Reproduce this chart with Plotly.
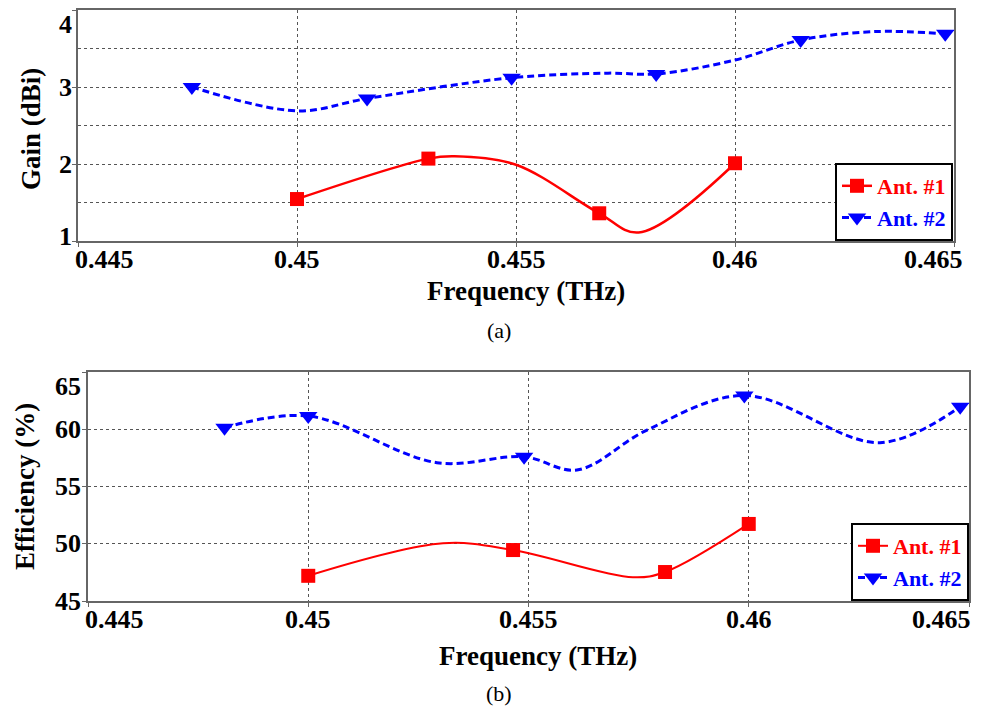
import plotly.graph_objects as go

# ---------------- data ----------------
freq_tick_vals = [0.445, 0.45, 0.455, 0.46, 0.465]
freq_tick_text = ["0.445", "0.45", "0.455", "0.46", "0.465"]
gain_tick_vals = [1, 2, 3, 4]
eff_tick_vals = [45, 50, 55, 60, 65]

# (a) Gain, Ant. #1 : marker points and curve points
gain1_mk_f = [0.45, 0.453, 0.4569, 0.46]
gain1_mk_v = [1.545, 2.07, 1.36, 2.01]
gain1_f = [0.45, 0.453, 0.4536, 0.455, 0.4569, 0.4578, 0.46]
gain1_v = [1.545, 2.07, 2.10, 1.99, 1.36, 1.11, 2.01]

# (a) Gain, Ant. #2
gain2_mk_f = [0.4476, 0.4516, 0.4549, 0.4582, 0.4615, 0.4648]
gain2_mk_v = [3.0, 2.85, 3.12, 3.17, 3.61, 3.69]
gain2_f = [0.4476, 0.45, 0.4516, 0.4549, 0.4571, 0.4582, 0.46, 0.4615, 0.4632, 0.4648]
gain2_v = [3.0, 2.69, 2.85, 3.12, 3.18, 3.17, 3.35, 3.61, 3.72, 3.69]

# (b) Efficiency, Ant. #1
eff1_mk_f = [0.45, 0.45465, 0.4581, 0.46]
eff1_mk_v = [47.2, 49.45, 47.53, 51.73]
eff1_f = [0.45, 0.45306, 0.45465, 0.45737, 0.4581, 0.46]
eff1_v = [47.2, 50.04, 49.45, 47.07, 47.53, 51.73]

# (b) Efficiency, Ant. #2
eff2_mk_f = [0.4481, 0.45, 0.4549, 0.4599, 0.4648]
eff2_mk_v = [60.14, 61.16, 57.6, 62.95, 61.97]
eff2_f = [0.4481, 0.45, 0.45292, 0.4549, 0.4561, 0.45769, 0.4599, 0.46298, 0.4648]
eff2_v = [60.14, 61.16, 57.08, 57.6, 56.44, 59.93, 62.95, 58.83, 61.97]

series_names = ["Ant. #1", "Ant. #2"]

# ---------------- styling ----------------
W, H = 981, 710
OFF = 8  # page body margin: figure is drawn 8px right/down of the window corner
RED = "#ff0000"
BLUE = "#0000ff"
FONT = "Liberation Serif, Times New Roman, serif"
GRID = "#555555"
AXC = "#666666"

def px_x(p):
    return (p - OFF) / W

def px_y(p):
    return 1 - (p - OFF) / H

def b(t):
    return f"<b>{t}</b>"

dom_a_x = [px_x(78), px_x(954)]
dom_a_y = [px_y(241), px_y(10)]
dom_b_x = [px_x(88), px_x(969)]
dom_b_y = [px_y(601), px_y(372)]

fig = go.Figure()

def add_series(f, v, mk_f, mk_v, name, color, symbol, msize, dash, width, xa, ya, legend):
    fig.add_trace(go.Scatter(
        x=f, y=v, mode="lines", showlegend=False,
        line=dict(color=color, width=width, dash=dash, shape="spline", smoothing=1.0),
        xaxis=xa, yaxis=ya, hoverinfo="skip",
    ))
    fig.add_trace(go.Scatter(
        x=mk_f, y=mk_v, mode="markers", showlegend=False,
        marker=dict(color=color, symbol=symbol, size=msize, opacity=1, line=dict(width=0)),
        xaxis=xa, yaxis=ya,
    ))
    fig.add_trace(go.Scatter(
        x=[None], y=[None], mode="lines+markers",
        name=f"<b><span style='color:{color}'>{name}</span></b>",
        line=dict(color=color, width=width, dash=dash),
        marker=dict(color=color, symbol=symbol, size=msize, opacity=1, line=dict(width=0)),
        xaxis=xa, yaxis=ya, legend=legend,
    ))

add_series(gain1_f, gain1_v, gain1_mk_f, gain1_mk_v, series_names[0], RED, "square", 14, "solid", 2.5, "x", "y", "legend")
add_series(gain2_f, gain2_v, gain2_mk_f, gain2_mk_v, series_names[1], BLUE, "triangle-down", 16, "7px,4px", 3, "x", "y", "legend")
add_series(eff1_f, eff1_v, eff1_mk_f, eff1_mk_v, series_names[0], RED, "square", 14, "solid", 2, "x2", "y2", "legend2")
add_series(eff2_f, eff2_v, eff2_mk_f, eff2_mk_v, series_names[1], BLUE, "triangle-down", 16, "7px,4px", 3, "x2", "y2", "legend2")

tick_font = dict(family=FONT, size=26, color="black")
title_font = dict(family=FONT, size=27, color="black")
caption_font = dict(family=FONT, size=22, color="black")

axcommon = dict(
    showgrid=True, gridcolor=GRID, griddash="dot", gridwidth=1,
    showline=True, linecolor=AXC, linewidth=1.5, mirror=True,
    ticks="outside", ticklen=4, tickcolor=AXC, automargin=False,
    showticklabels=False, zeroline=False, fixedrange=True,
)

fig.update_layout(
    width=W, height=H,
    margin=dict(l=0, r=0, t=0, b=0, autoexpand=False),
    paper_bgcolor="white", plot_bgcolor="white",
    showlegend=True,
    xaxis=dict(domain=dom_a_x, anchor="y", range=[0.445, 0.465],
               tickvals=freq_tick_vals, **axcommon),
    yaxis=dict(domain=dom_a_y, anchor="x", range=[1, 4], tickvals=gain_tick_vals,
               minor=dict(dtick=0.5, showgrid=True, gridcolor=GRID, griddash="dot", gridwidth=1),
               **axcommon),
    xaxis2=dict(domain=dom_b_x, anchor="y2", range=[0.445, 0.465],
                tickvals=freq_tick_vals, **axcommon),
    yaxis2=dict(domain=dom_b_y, anchor="x2", range=[45, 65], tickvals=eff_tick_vals,
                **axcommon),
    legend=dict(
        x=px_x(953), y=px_y(241), xanchor="right", yanchor="bottom",
        bgcolor="white", bordercolor="black", borderwidth=2,
        font=dict(family=FONT, size=22), tracegroupgap=0,
    ),
    legend2=dict(
        x=px_x(969), y=px_y(601), xanchor="right", yanchor="bottom",
        bgcolor="white", bordercolor="black", borderwidth=2,
        font=dict(family=FONT, size=22), tracegroupgap=0,
    ),
)

annotations = []

# x tick labels (end labels pulled inward as in the reference)
for xr, yr_dom, rshift in (("x", dom_a_y, 11), ("x2", dom_b_y, 4)):
    n = len(freq_tick_vals)
    for i, (v, t) in enumerate(zip(freq_tick_vals, freq_tick_text)):
        if i == 0:
            anc, xs = "left", -5
        elif i == n - 1:
            anc, xs = "right", rshift
        else:
            anc, xs = "center", 0
        annotations.append(dict(x=v, y=yr_dom[0], xref=xr, yref="paper",
                                text=b(t), showarrow=False, xanchor=anc,
                                yanchor="top", xshift=xs, yshift=-2, font=tick_font))

# y tick labels (top label pulled inside, as in the reference)
for yr, vals, dom_x, xs in (("y", gain_tick_vals, dom_a_x, -4), ("y2", eff_tick_vals, dom_b_x, -5)):
    for i, v in enumerate(vals):
        if i == len(vals) - 1:
            yanc, ys = "top", 2
        elif i == 0 and yr == "y":
            yanc, ys = "middle", 5
        else:
            yanc, ys = "middle", 0
        annotations.append(dict(x=dom_x[0], y=v, xref="paper", yref=yr,
                                text=b(v), showarrow=False, xanchor="right",
                                yanchor=yanc, xshift=xs, yshift=ys, font=tick_font))

# axis titles
annotations.append(dict(x=px_x(526), y=px_y(291), xref="paper", yref="paper",
                        text=b("Frequency (THz)"), showarrow=False, font=title_font,
                        xanchor="center", yanchor="middle"))
annotations.append(dict(x=px_x(538), y=px_y(656), xref="paper", yref="paper",
                        text=b("Frequency (THz)"), showarrow=False, font=title_font,
                        xanchor="center", yanchor="middle"))
annotations.append(dict(x=px_x(31), y=px_y(129), xref="paper", yref="paper",
                        text=b("Gain (dBi)"), showarrow=False, font=title_font,
                        textangle=-90, xanchor="center", yanchor="middle"))
annotations.append(dict(x=px_x(25), y=px_y(487), xref="paper", yref="paper",
                        text=b("Efficiency (%)"), showarrow=False, font=title_font,
                        textangle=-90, xanchor="center", yanchor="middle"))
# captions
annotations.append(dict(x=px_x(499), y=px_y(330), xref="paper", yref="paper",
                        text="(a)", showarrow=False, font=caption_font,
                        xanchor="center", yanchor="middle"))
annotations.append(dict(x=px_x(499), y=px_y(693), xref="paper", yref="paper",
                        text="(b)", showarrow=False, font=caption_font,
                        xanchor="center", yanchor="middle"))
fig.update_layout(annotations=annotations)

fig.write_html("out.html")
